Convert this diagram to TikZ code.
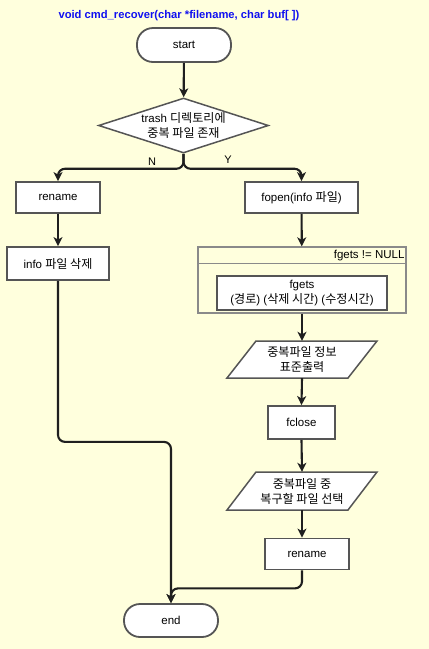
\documentclass[tikz,border=0pt]{standalone}
\usepackage{fontspec}
\setmainfont{Liberation Sans}
\newfontfamily\kr[Scale=1.05]{Noto Sans CJK KR}
\usetikzlibrary{arrows.meta,calc,shapes.geometric}
\definecolor{bg}{HTML}{FFFFDD}
\definecolor{edge}{HTML}{555555}
\definecolor{lgray}{HTML}{8A8A8A}
\definecolor{ttl}{HTML}{1010F0}
\begin{document}
\begin{tikzpicture}[x=1pt,y=-1pt,
  font=\fontsize{11.5}{15}\selectfont,
  every node/.style={inner sep=0pt},
  procbox/.style={draw=edge,line width=1.8pt,fill=white,align=center},
  term/.style={draw=edge,line width=1.8pt,fill=white,rounded corners=16pt,minimum width=94pt,minimum height=34pt},
  decision/.style={diamond,aspect=3,draw=edge,line width=1.5pt,fill=white,minimum width=170pt,minimum height=55pt,align=center},
  ioshape/.style={draw=edge,line width=1.5pt,fill=white},
  loopbox/.style={draw=lgray,line width=1.3pt},
  conn/.style={line width=2.1pt,draw=black!88,rounded corners=7pt},
  arr/.style={conn,-{Stealth[length=9pt,width=9pt,inset=2.5pt]}},
  lbl/.style={font=\fontsize{11}{12}\selectfont}
]
\fill[bg] (0,0) rectangle (429,649);
\useasboundingbox (0,0) rectangle (429,649);

\node[font=\bfseries\fontsize{11.2}{13}\selectfont,text=ttl] (title) at (179,16) {void cmd\_recover(char *filename, char buf[ ])};

\node[term] (start) at (184,45) {start};
\node[decision] (dec) at (183.5,125.5) {trash {\kr 디렉토리에}\\{\kr 중복 파일 존재}};

\node[procbox,minimum width=84pt,minimum height=31pt] (ren1) at (58,197.5) {rename};
\node[procbox,minimum width=102pt,minimum height=33pt] (info) at (58,263.5) {info {\kr 파일 삭제}};
\node[procbox,minimum width=113pt,minimum height=31pt] (fopen) at (301.5,197.5) {fopen(info {\kr 파일})};

% loop box
\node[loopbox,minimum width=208pt,minimum height=66pt] (loop) at (302,280) {};
\draw[loopbox] ($(loop.north west)+(0,17)$) -- ($(loop.north east)+(0,17)$);
\node[anchor=east] (hdr) at ($(loop.north east)+(-2,9)$) {fgets != NULL};
\node[procbox,minimum width=170pt,minimum height=34pt] (fgets) at (302,293) {fgets\\({\kr 경로}) ({\kr 삭제 시간}) ({\kr 수정시간})};

% parallelogram 1
\coordinate (p1c) at (302,359.5);
\filldraw[ioshape] ($(p1c)+(-75,18.5)$) -- ($(p1c)+(46,18.5)$) -- ($(p1c)+(75,-18.5)$) -- ($(p1c)+(-46,-18.5)$) -- cycle;
\node[minimum width=120pt,minimum height=37pt,align=center] (p1) at (p1c) {{\kr 중복파일 정보}\\{\kr 표준출력}};

\node[procbox,minimum width=67pt,minimum height=33pt] (fclose) at (301.5,422.5) {fclose};

% parallelogram 2
\coordinate (p2c) at (302,491);
\filldraw[ioshape] ($(p2c)+(-75,19)$) -- ($(p2c)+(46,19)$) -- ($(p2c)+(75,-19)$) -- ($(p2c)+(-46,-19)$) -- cycle;
\node[minimum width=120pt,minimum height=38pt,align=center] (p2) at (p2c) {{\kr 중복파일 중}\\{\kr 복구할 파일 선택}};

\node[procbox,minimum width=84pt,minimum height=31pt] (ren2) at (307,554) {rename};
\node[term,minimum height=33pt] (end) at (171,620.5) {end};

% connectors
\draw[arr] (start) -- (dec);
\draw[arr] (dec.south) -- ++(0,15) -| (ren1.north);
\draw[arr] (dec.south) -- ++(0,15) -| (fopen.north);
\node[lbl] (nlab) at (152,162) {N};
\node[lbl] (ylab) at (228,160) {Y};
\draw[arr] (ren1) -- (info);
\draw[arr] (fopen) -- (loop);
\draw[arr] (loop.south) -- (p1.north);
\draw[arr] (p1.south) -- (fclose.north);
\draw[arr] (fclose.south) -- (p2.north);
\draw[arr] (p2.south) -- (p2.south |- ren2.north);
\draw[arr] (info.south) -- ++(0,161) -| (end.north);
\draw[arr] (ren2.south -| p2.south) -- ++(0,18) -| (end.north);
\end{tikzpicture}
\end{document}
